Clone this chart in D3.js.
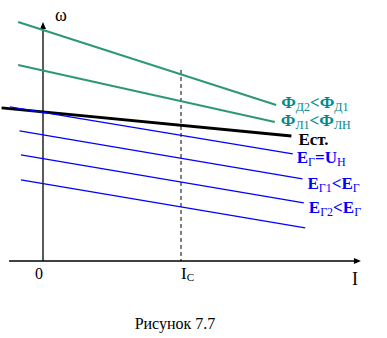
<!DOCTYPE html>
<html><head><meta charset="utf-8">
<script src="https://cdn.jsdelivr.net/npm/d3@7"></script>
<style>body{margin:0;background:#fff}svg{display:block}</style>
</head><body>
<svg id="c" width="387" height="338" style="font-family:'Liberation Serif',serif"></svg>
<script>
// Characteristic lines: [I start, ω start, I end, ω end] (I_C = 1)
const lineNames = ["ФД2<ФД1", "ФЛ1<ФЛН", "Ест.", "EГ=UН", "EГ1<EГ", "EГ2<EГ"];
const lineStartI = [-0.18, -0.18, -0.30, -0.24, -0.17, -0.16];
const lineStartW = [9.96, 8.17, 6.38, 6.42, 5.42, 4.42];
const lineEndI   = [1.69, 1.68, 1.80, 1.81, 1.88, 1.89];
const lineEndW   = [6.50, 5.79, 5.21, 4.46, 3.42, 2.42];
const extraStartI = -0.16, extraStartW = 3.38, extraEndI = 1.90, extraEndW = 1.38;
const tickLabels = ["0", "I", "C"];
const axisLabels = ["ω", "I"];
const caption = "Рисунок 7.7";

const x = d3.scaleLinear().domain([0, 1]).range([43, 181]);
const y = d3.scaleLinear().domain([0, 10]).range([261, 21]);
const svg = d3.select("#c");
const F = "font-family:'Liberation Serif',serif";

// axes
svg.append("line").attr("x1", x(-0.246)).attr("x2", x(2.26)).attr("y1", y(0)).attr("y2", y(0))
  .attr("stroke", "#000").attr("stroke-width", 1.3);
svg.append("path").attr("d", `M${x(2.304)},${y(0)} L${x(2.304)-7},${y(0)-3} L${x(2.304)-7},${y(0)+3} Z`).attr("fill", "#000");
svg.append("line").attr("x1", x(0)).attr("x2", x(0)).attr("y1", y(0)).attr("y2", y(9.7))
  .attr("stroke", "#000").attr("stroke-width", 1.3);
svg.append("path").attr("d", `M${x(0)},${y(9.96)} L${x(0)-3},${y(9.96)+7} L${x(0)+3},${y(9.96)+7} Z`).attr("fill", "#000");

// dashed I_C line
svg.append("line").attr("x1", x(1)).attr("x2", x(1)).attr("y1", y(7.96)).attr("y2", y(0))
  .attr("stroke", "#000").attr("stroke-width", 1).attr("stroke-dasharray", "4,3");

// lines
const colors = ["#2e9970", "#2e9970", "#000", "#0000ff", "#0000ff", "#0000ff"];
const widths = [2, 2, 3, 1.3, 1.3, 1.3];
const data = lineNames.map((n, i) => ({n, x0: lineStartI[i], y0: lineStartW[i], x1: lineEndI[i], y1: lineEndW[i], c: colors[i], w: widths[i]}));
data.push({n: null, x0: extraStartI, y0: extraStartW, x1: extraEndI, y1: extraEndW, c: "#0000ff", w: 1.3});
svg.selectAll("line.l").data(data).join("line").attr("class", "l")
  .attr("x1", d => x(d.x0)).attr("y1", d => y(d.y0)).attr("x2", d => x(d.x1)).attr("y2", d => y(d.y1))
  .attr("stroke", d => d.c).attr("stroke-width", d => d.w);

// labels
const labelColors = ["#008a8a", "#008a8a", "#000", "#0000ff", "#0000ff", "#0000ff"];
const labelDx = [5, 6, 7, 4, 5, 5];
const labelDy = [3, 4, 9, 9, 10, 10];
const parts = [
  [["Ф",0],["Д2",1],["<Ф",0],["Д1",1]],
  [["Ф",0],["Л1",1],["<Ф",0],["ЛН",1]],
  [["Ест.",0]],
  [["E",0],["Г",1],["=U",0],["Н",1]],
  [["E",0],["Г1",1],["<E",0],["Г",1]],
  [["E",0],["Г2",1],["<E",0],["Г",1]]
];
data.slice(0, 6).forEach((d, i) => {
  const t = svg.append("text").attr("style", F).attr("x", x(d.x1) + labelDx[i]).attr("y", y(d.y1) + labelDy[i])
    .attr("font-size", 17).attr("font-weight", "bold").attr("fill", labelColors[i]);
  let sub = false;
  parts[i].forEach(([s, isSub]) => {
    const ts = t.append("tspan").text(s);
    if (isSub && !sub) { ts.attr("dy", 3).attr("font-size", 12).attr("font-weight", "normal"); sub = true; }
    else if (!isSub && sub) { ts.attr("dy", -3); sub = false; }
    else if (isSub) ts.attr("font-size", 12).attr("font-weight", "normal");
  });
});

// axis texts
svg.append("text").attr("style", F).attr("x", 55).attr("y", 21).attr("font-size", 18).text(axisLabels[0]);
svg.append("text").attr("style", F).attr("x", 352).attr("y", 285).attr("font-size", 18).text(axisLabels[1]);
svg.append("text").attr("style", F).attr("x", x(0) - 8).attr("y", 279).attr("font-size", 16).text(tickLabels[0]);
const ic = svg.append("text").attr("style", F).attr("x", x(1)).attr("y", 279).attr("font-size", 17);
ic.append("tspan").text(tickLabels[1]);
ic.append("tspan").attr("dy", 2).attr("font-size", 11).text(tickLabels[2]);
svg.append("text").attr("style", F).attr("x", 175).attr("y", 329).attr("text-anchor", "middle").attr("font-size", 16).text(caption);
</script>
</body></html>
